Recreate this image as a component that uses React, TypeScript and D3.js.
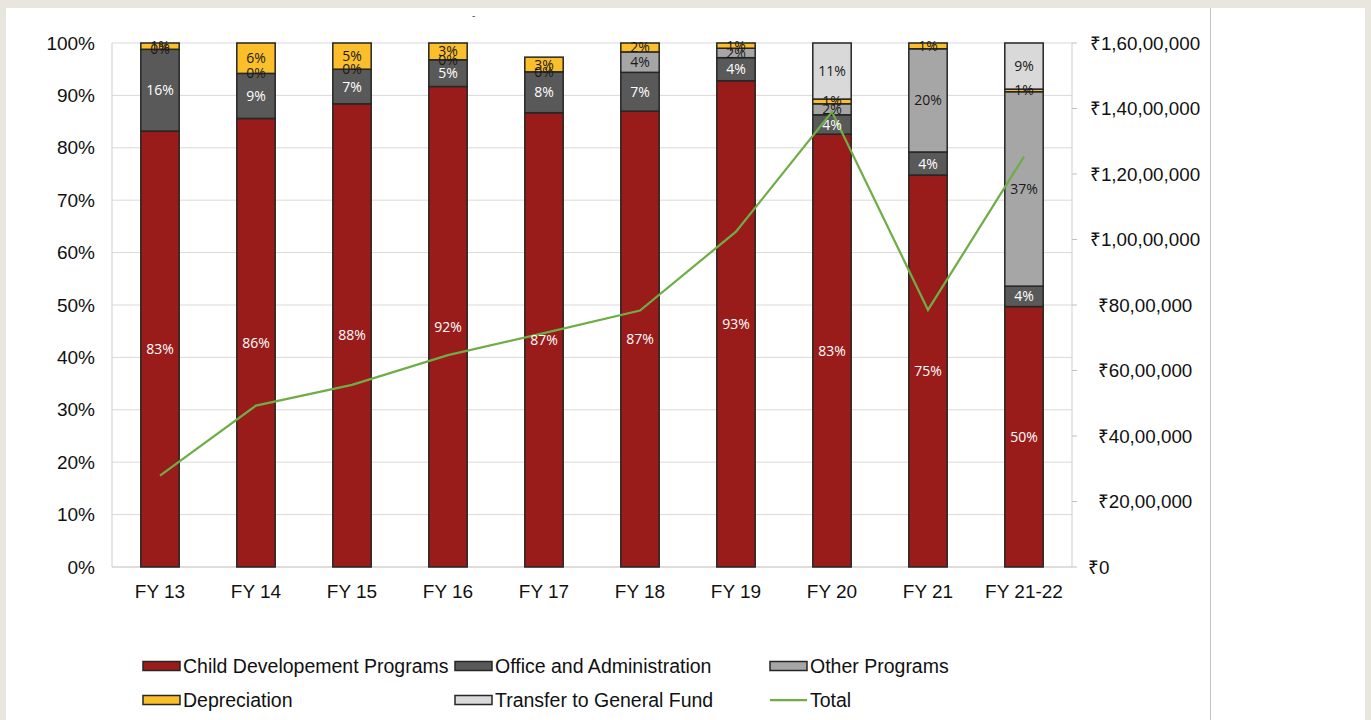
import React from "react";
import * as d3 from "d3";

const categories = ["FY 13", "FY 14", "FY 15", "FY 16", "FY 17", "FY 18", "FY 19", "FY 20", "FY 21", "FY 21-22"];
const childDev = [83.2, 85.6, 88.4, 91.7, 86.7, 87.0, 92.8, 82.6, 74.8, 49.7];
const officeAdmin = [15.6, 8.6, 6.6, 5.1, 7.8, 7.4, 4.4, 3.7, 4.4, 3.9];
const otherPrograms = [0, 0, 0, 0, 0, 3.9, 1.8, 2.1, 19.7, 37.1];
const depreciation = [1.2, 5.8, 5.0, 3.2, 2.8, 1.7, 1.0, 0.9, 1.1, 0.5];
const transferGF: (number | null)[] = [null, null, null, null, null, null, null, 10.7, null, 8.8];
const totals = [2790000, 4930000, 5560000, 6470000, 7140000, 7830000, 10240000, 13900000, 7850000, 12530000];
const leftTicks = [0, 10, 20, 30, 40, 50, 60, 70, 80, 90, 100];
const rightTicks = [0, 2000000, 4000000, 6000000, 8000000, 10000000, 12000000, 14000000, 16000000];

const seriesDefs = [
  { name: "Child Developement Programs", values: childDev as (number | null)[], fill: "#9a1c1a", text: "#ffffff" },
  { name: "Office and Administration", values: officeAdmin as (number | null)[], fill: "#595959", text: "#ffffff" },
  { name: "Other Programs", values: otherPrograms as (number | null)[], fill: "#a6a6a6", text: "#1a1a1a" },
  { name: "Depreciation", values: depreciation as (number | null)[], fill: "#fbbf2c", text: "#1a1a1a" },
  { name: "Transfer to General Fund", values: transferGF, fill: "#d9d9d9", text: "#1a1a1a" },
];

function inr(v: number): string {
  if (v === 0) return "₹0";
  const s = String(Math.round(v));
  const last3 = s.slice(-3);
  let rest = s.slice(0, -3);
  const groups: string[] = [];
  while (rest.length > 2) {
    groups.unshift(rest.slice(-2));
    rest = rest.slice(0, -2);
  }
  if (rest.length) groups.unshift(rest);
  return "₹" + (groups.length ? groups.join(",") + "," : "") + last3;
}

export default function App() {
  const W = 1371, H = 720;
  const left = 112, right = 1072, top = 43, bottom = 567;
  const x = d3.scaleBand<string>().domain(categories).range([left, right]).paddingInner(0.6).paddingOuter(0.3);
  const bw = x.bandwidth();
  const yL = d3.scaleLinear().domain([0, 100]).range([bottom, top]);
  const yR = d3.scaleLinear().domain([0, 16000000]).range([bottom, top]);
  const axisFont = "'Liberation Sans', Arial, sans-serif";
  const labelFont = "'Open Sans', 'Noto Sans', sans-serif";

  const segs: any[] = [];
  categories.forEach((c, i) => {
    let acc = 0;
    seriesDefs.forEach((s) => {
      const v = s.values[i];
      if (v === null || v === undefined) return;
      segs.push({ c, y0: acc, y1: acc + v, v, s });
      acc += v;
    });
  });

  const line = d3
    .line<number>()
    .x((_, i) => (x(categories[i]) as number) + bw / 2)
    .y((d) => yR(d));

  const legendItems = [
    { s: seriesDefs[0], lx: 143, ly: 666 },
    { s: seriesDefs[1], lx: 455, ly: 666 },
    { s: seriesDefs[2], lx: 770, ly: 666 },
    { s: seriesDefs[3], lx: 143, ly: 700 },
    { s: seriesDefs[4], lx: 455, ly: 700 },
  ];

  return (
    <div style={{ position: "fixed", left: 0, top: 0, width: W, height: H }}>
      <svg width={W} height={H} style={{ display: "block" }}>
        <rect x={0} y={0} width={W} height={H} fill="#e9e5df" />
        <rect x={6} y={8} width={1359} height={H - 8} fill="#ffffff" />
        <line x1={1210.5} x2={1210.5} y1={8} y2={H} stroke="#c4c4c4" strokeWidth={1} />
        <text x={472} y={19} fontSize={10} fill="#555" fontFamily={axisFont}>-</text>

        {leftTicks.map((t) => (
          <line key={"g" + t} x1={left} x2={right} y1={yL(t)} y2={yL(t)} stroke="#d9d9d9" strokeWidth={1} />
        ))}
        <line x1={left} x2={left} y1={top} y2={bottom} stroke="#cfcfcf" strokeWidth={1} />
        <line x1={left} x2={right} y1={bottom} y2={bottom} stroke="#cfcfcf" strokeWidth={1} />
        <line x1={right} x2={right} y1={top} y2={bottom} stroke="#cfcfcf" strokeWidth={1} />
        {rightTicks.map((t) => (
          <line key={"rt" + t} x1={right} x2={right + 5} y1={yR(t)} y2={yR(t)} stroke="#bfbfbf" strokeWidth={1} />
        ))}

        {leftTicks.map((t) => (
          <text key={"lt" + t} x={95} y={yL(t)} dy="0.35em" textAnchor="end" fontSize={19} fontFamily={axisFont} fill="#111">
            {t + "%"}
          </text>
        ))}
        {rightTicks.map((t) => (
          <text
            key={"rl" + t}
            x={t === 0 ? 1088 : 1145}
            y={yR(t)}
            dy="0.35em"
            textAnchor={t === 0 ? "start" : "middle"}
            fontSize={18.8}
            fontFamily={axisFont}
            fill="#111"
          >
            {inr(t)}
          </text>
        ))}
        {categories.map((c) => (
          <text key={"xl" + c} x={(x(c) as number) + bw / 2} y={591} dy="0.35em" textAnchor="middle" fontSize={19} fontFamily={axisFont} fill="#111">
            {c}
          </text>
        ))}

        {segs.map((d, k) => (
          <rect
            key={"b" + k}
            x={x(d.c)}
            y={yL(d.y1)}
            width={bw}
            height={Math.max(0, yL(d.y0) - yL(d.y1))}
            fill={d.s.fill}
            stroke="#262626"
            strokeWidth={1.5}
          />
        ))}

        <path d={line(totals) || ""} fill="none" stroke="#70ad47" strokeWidth={2.25} />

        {segs.map((d, k) => (
          <text
            key={"t" + k}
            x={(x(d.c) as number) + bw / 2}
            y={yL((d.y0 + d.y1) / 2)}
            dy="0.36em"
            textAnchor="middle"
            fontSize={14}
            fontFamily={labelFont}
            fill={d.s.text}
          >
            {Math.round(d.v) + "%"}
          </text>
        ))}

        {legendItems.map((it) => (
          <g key={"lg" + it.s.name}>
            <rect x={it.lx} y={it.ly - 4.5} width={37} height={9} fill={it.s.fill} stroke="#262626" strokeWidth={1.5} />
            <text x={it.lx + 40} y={it.ly} dy="0.35em" fontSize={19.5} fontFamily={axisFont} fill="#111">
              {it.s.name}
            </text>
          </g>
        ))}
        <line x1={770} x2={807} y1={700} y2={700} stroke="#70ad47" strokeWidth={2.25} />
        <text x={810} y={700} dy="0.35em" fontSize={19.5} fontFamily={axisFont} fill="#111">Total</text>
      </svg>
    </div>
  );
}
